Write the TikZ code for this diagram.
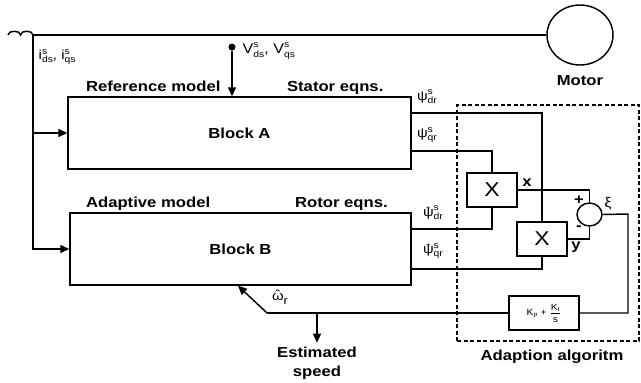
\documentclass[tikz,border=0pt]{standalone}
\usepackage{fontspec}
\setmainfont{Liberation Sans}[FakeStretch=1.15]
\usepackage{amsmath}
\usetikzlibrary{arrows.meta,shapes.geometric}
\newcommand{\supsub}[3]{#1\rlap{\raisebox{0.75ex}{\fontsize{9}{9}\selectfont #2}}\raisebox{-0.55ex}{\fontsize{9}{9}\selectfont #3}}
\newcommand{\hatg}[2][0.12em]{\ooalign{#2\cr\hidewidth\raisebox{#1}{\fontsize{10}{10}\selectfont ˆ}\hidewidth\cr}}
\newcommand{\hatw}[1]{\ooalign{#1\cr\hidewidth\raisebox{0.12em}{\fontsize{13}{13}\selectfont ˆ}\hidewidth\cr}}
\begin{document}
\begin{tikzpicture}[x=1pt,y=-1pt,line width=1.45pt,
  >={Triangle[length=9pt,width=8pt]},
  box/.style={draw,line width=1.45pt,inner sep=0pt},
  lbl/.style={font=\fontsize{14.5}{19}\selectfont\bfseries},
  sym/.style={font=\fontsize{13}{15}\selectfont},
  xbox/.style={box,minimum width=50pt,minimum height=34pt,font=\fontsize{20}{20}\selectfont}]
\useasboundingbox (0,0) rectangle (641,383);
% blocks
\node[box,lbl,minimum width=343pt,minimum height=72pt] (A) at (239.5,133) {Block A};
\node[box,lbl,minimum width=341pt,minimum height=72pt] (B) at (240.5,249) {Block B};
\node[xbox] (X1) at (492,190) {X};
\node[xbox] (X2) at (542,239) {X};
\node[draw,ellipse,inner sep=0pt,minimum width=25pt,minimum height=23pt] (S) at (589.5,214.5) {};
\node[draw,ellipse,inner sep=0pt,minimum width=66pt,minimum height=60pt] (M) at (580,35) {};
\node[box,minimum width=70pt,minimum height=34pt,font=\fontsize{9}{10}\selectfont] (PI) at (544,313)
  {K\textsubscript{p} + $\dfrac{\text{K\textsubscript{I}}}{\text{s}}$};
\node[draw,dashed,dash pattern=on 4pt off 2.5pt,inner sep=0pt,minimum width=182pt,minimum height=236pt] (alg) at (548,223) {};
% labels
\node[lbl] (mot) at (580,81) {Motor};
\node[lbl,anchor=base west] (refm) at (82,91) {Reference model};
\node[lbl,anchor=base west] (stat) at (283,91) {Stator eqns.};
\node[lbl,anchor=base west] (adm) at (82,207) {Adaptive model};
\node[lbl,anchor=base west] (rot) at (291,207) {Rotor eqns.};
\node[lbl] (alglbl) at (552,357) {Adaption algoritm};
\node[lbl,align=center] (est) at (317,363) {Estimated\\speed};
\node[sym,anchor=west,inner sep=0pt] (ilbl) at (38,57) {\supsub{i}{s}{ds}, \supsub{i}{s}{qs}};
\node[sym,anchor=west,inner sep=0pt,font=\fontsize{14}{15}\selectfont] (vlbl) at (242,51) {\supsub{V}{s}{ds}, \supsub{V}{s}{qs}};
\node[sym] (pdr) at (427,97) {\supsub{ψ}{s}{dr}};
\node[sym] (pqr) at (427,135) {\supsub{ψ}{s}{qr}};
\node[sym] (phdr) at (433,213) {\supsub{\hatg{ψ}}{s}{dr}};
\node[sym] (phqr) at (433,251) {\supsub{\hatg{ψ}}{s}{qr}};
\node[sym] (wr) at (280,299) {\hatw{ω}\raisebox{-0.5ex}{\fontsize{11}{11}\selectfont r}};
\node[lbl] (xl) at (527,183) {x};
\node[lbl] (yl) at (576,247) {y};
\node[lbl] (pl) at (579,200) {+};
\node[lbl] (ml) at (579,228) {-};
\node[sym,font=\fontsize{14}{15}\selectfont] (xil) at (608,204) {ξ};
% coordinates
\coordinate (cL) at (8,35);
\coordinate (cM) at (20.5,35);
\coordinate (J) at (33,35);
\coordinate (R) at (628,214);
\coordinate (K) at (267,313);
\coordinate (E) at (317,313);
\node[circle,fill,inner sep=0pt,minimum size=7pt] (dot) at (232,47) {};
% connectors
\draw (cL) .. controls (8,30) and (20.5,30) .. (cM) .. controls (20.5,30) and (33,30) .. (J);
\draw (J) -- (M.west);
\draw[->] (J) |- (B.west);
\draw[->] (J |- A.west) -- (A.west);
\draw[->] (dot) -- (dot |- A.north);
\draw (A.east |- 0,113) -| (X2.north);
\draw (A.east |- 0,151) -| (X1.north);
\draw (B.east |- 0,229) -| (X1.south);
\draw (B.east |- 0,269) -| (X2.south);
\draw (X1.east) -| (S.north);
\draw (X2.east) -| (S.south);
\draw (S.east) -- (R) |- (PI.east);
\draw (PI.west) -- (K);
\draw[->] (K) -- ([xshift=-2.5pt]B.south);
\draw[->] (E) -- (est.north);
\end{tikzpicture}
\end{document}
